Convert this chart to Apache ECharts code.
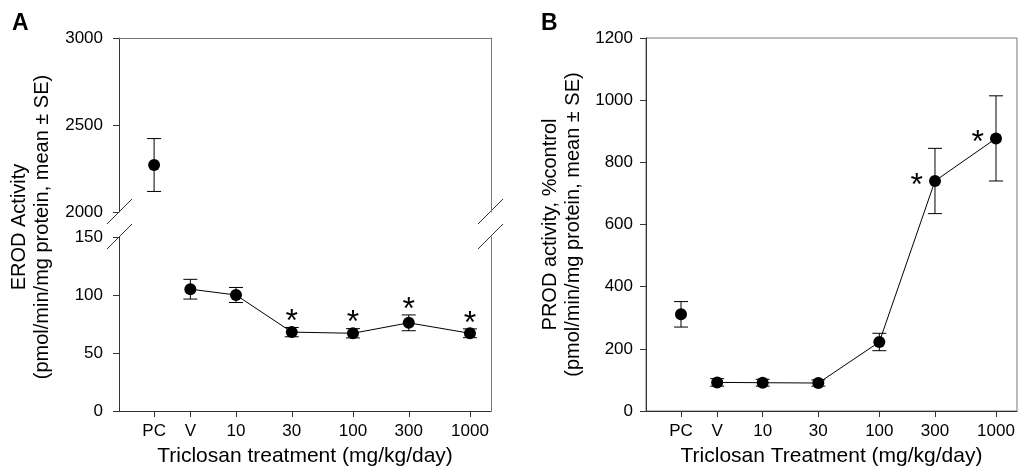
<!DOCTYPE html>
<html>
<head>
<meta charset="utf-8">
<script src="https://cdn.jsdelivr.net/npm/echarts@6/dist/echarts.min.js"></script>
<style>
  html, body { margin: 0; padding: 0; background: #fff; }
  #main { width: 1018px; height: 472px; }
</style>
</head>
<body>
<div id="main"></div>
<script>
// dose groups; x position is on a log10 scale (PC and V placed to the left)
var doseLabels = ["PC", "V", "10", "30", "100", "300", "1000"];
var dosePos = [0.3, 0.61, 1, 1.477, 2, 2.477, 3];

// panel A: EROD
var erodMean = [2270, 105, 100, 68, 67, 76, 67];
var erodSE = [152, 8.5, 6.5, 4, 4, 6.8, 3.8];
var erodSig = [0, 0, 0, 1, 1, 1, 1];

// panel B: PROD
var prodMean = [311, 92, 91, 90, 222, 740, 877];
var prodSE = [41, 12, 11, 10, 28, 105, 137];
var prodSig = [0, 0, 0, 0, 0, 1, 1];

var FONT = "Liberation Sans, Arial, sans-serif";
var AXIS = "#333";
var BOX = "#777";

var chartDom = document.getElementById("main");
var myChart = echarts.init(chartDom);

function doseName(v) {
  var i = dosePos.findIndex(function (p) { return Math.abs(p - v) < 1e-6; });
  return i >= 0 ? doseLabels[i] : "";
}

function pts(mean, from, to) {
  var out = [];
  for (var i = from; i <= to; i++) out.push([dosePos[i], mean[i]]);
  return out;
}
function errs(mean, se, from, to) {
  var out = [];
  for (var i = from; i <= to; i++) out.push([dosePos[i], mean[i] - se[i], mean[i] + se[i]]);
  return out;
}
function stars(mean, se, sig, from, to) {
  var out = [];
  for (var i = from; i <= to; i++) if (sig[i]) out.push([dosePos[i], mean[i] + se[i]]);
  return out;
}

function renderErr(params, api) {
  var x = api.value(0);
  var lo = api.coord([x, api.value(1)]);
  var hi = api.coord([x, api.value(2)]);
  var w = 7;
  var st = { stroke: "#000", lineWidth: 1 };
  return {
    type: "group",
    children: [
      { type: "line", shape: { x1: lo[0], y1: lo[1], x2: hi[0], y2: hi[1] }, style: st },
      { type: "line", shape: { x1: lo[0] - w, y1: lo[1], x2: lo[0] + w, y2: lo[1] }, style: st },
      { type: "line", shape: { x1: hi[0] - w, y1: hi[1], x2: hi[0] + w, y2: hi[1] }, style: st },
    ],
  };
}

function xAxisBase(grid, showLabels) {
  return {
    type: "value",
    gridIndex: grid,
    min: 0,
    max: 3.18,
    splitLine: { show: false },
    axisLine: { show: true, lineStyle: { color: AXIS } },
    axisTick: { show: showLabels, inside: false, length: 6, lineStyle: { color: AXIS }, customValues: dosePos },
    axisLabel: {
      show: showLabels, customValues: dosePos, formatter: doseName,
      color: "#000", fontSize: 17, fontFamily: FONT, margin: 12,
    },
  };
}

function yAxisBase(grid, min, max, interval, margin) {
  return {
    type: "value",
    gridIndex: grid,
    min: min,
    max: max,
    interval: interval,
    splitLine: { show: false },
    axisLine: { show: true, lineStyle: { color: AXIS } },
    axisTick: { show: true, length: 6, lineStyle: { color: AXIS } },
    axisLabel: {
      color: "#000", fontSize: 17, fontFamily: FONT, margin: margin,
      formatter: function (v) { return String(v); },
    },
  };
}

function boxAxis(grid, min, max) {
  return {
    type: "value",
    gridIndex: grid,
    position: "right",
    min: min,
    max: max,
    splitLine: { show: false },
    axisLine: { show: true, onZero: false, lineStyle: { color: BOX } },
    axisTick: { show: false },
    axisLabel: { show: false },
  };
}

var xNameStyle = {
  nameLocation: "middle",
  nameGap: 35,
  nameTextStyle: { color: "#000", fontSize: 21, fontFamily: FONT },
};

var starLabel = { fontSize: 32, color: "#000", fontFamily: FONT, formatter: "*" };

var option = {
  animation: false,
  backgroundColor: "#fff",
  textStyle: { fontFamily: FONT },
  grid: [
    { left: 119, top: 38, width: 372, height: 174 }, // A upper (2000-3000)
    { left: 119, top: 237, width: 372, height: 174 }, // A lower (0-150)
    { left: 646, top: 38, width: 371, height: 373, show: true, borderColor: BOX, borderWidth: 1 }, // B
  ],
  xAxis: [
    Object.assign(xAxisBase(0, false), { position: "top", axisLine: { show: true, onZero: false, lineStyle: { color: BOX } } }),
    Object.assign(xAxisBase(1, true), xNameStyle, { name: "Triclosan treatment (mg/kg/day)" }),
    Object.assign(xAxisBase(2, true), xNameStyle, { name: "Triclosan Treatment (mg/kg/day)" }),
  ],
  yAxis: [
    yAxisBase(0, 2000, 3000, 500, 16),
    yAxisBase(1, 0, 150, 50, 16),
    Object.assign(yAxisBase(2, 0, 1200, 200, 13), {
      name: "PROD activity, %control\n(pmol/min/mg protein, mean ± SE)",
      nameLocation: "middle",
      nameGap: 61,
      nameTextStyle: { color: "#000", fontSize: 20, fontFamily: FONT, lineHeight: 23 },
    }),
    boxAxis(0, 2000, 3000),
    boxAxis(1, 0, 150),
  ],
  graphic: [
    { type: "text", left: 12, top: 12, style: { text: "A", font: "bold 23px " + FONT, fill: "#000" } },
    { type: "text", left: 541, top: 12, style: { text: "B", font: "bold 23px " + FONT, fill: "#000" } },
    {
      type: "text", x: 31, y: 227, rotation: Math.PI / 2,
      style: {
        text: "EROD Activity\n(pmol/min/mg protein, mean ± SE)",
        font: "20px " + FONT, fill: "#000", align: "center", verticalAlign: "middle", lineHeight: 23,
      },
    },
    // axis break marks
    { type: "line", shape: { x1: 107, y1: 224, x2: 132, y2: 199 }, style: { stroke: AXIS, lineWidth: 1 } },
    { type: "line", shape: { x1: 107, y1: 249, x2: 132, y2: 224 }, style: { stroke: AXIS, lineWidth: 1 } },
    { type: "line", shape: { x1: 478, y1: 224, x2: 503, y2: 199 }, style: { stroke: AXIS, lineWidth: 1 } },
    { type: "line", shape: { x1: 478, y1: 249, x2: 503, y2: 224 }, style: { stroke: AXIS, lineWidth: 1 } },
  ],
  series: [
    // ---- A ----
    {
      type: "custom", xAxisIndex: 0, yAxisIndex: 0, renderItem: renderErr,
      data: errs(erodMean, erodSE, 0, 0), encode: { x: 0, y: [1, 2] }, z: 3,
    },
    {
      type: "scatter", xAxisIndex: 0, yAxisIndex: 0, symbol: "circle", symbolSize: 12,
      itemStyle: { color: "#000", opacity: 1 }, data: pts(erodMean, 0, 0), z: 4,
    },
    {
      type: "custom", xAxisIndex: 1, yAxisIndex: 1, renderItem: renderErr,
      data: errs(erodMean, erodSE, 1, 6), encode: { x: 0, y: [1, 2] }, z: 3,
    },
    {
      type: "line", xAxisIndex: 1, yAxisIndex: 1, symbol: "circle", symbolSize: 12,
      lineStyle: { color: "#000", width: 1 }, itemStyle: { color: "#000" },
      data: pts(erodMean, 1, 6), z: 4,
    },
    {
      type: "scatter", xAxisIndex: 1, yAxisIndex: 1, symbolSize: 0,
      itemStyle: { opacity: 1 },
      label: Object.assign({ show: true, position: "top", distance: -11 }, starLabel),
      data: stars(erodMean, erodSE, erodSig, 1, 6), z: 5,
    },
    // ---- B ----
    {
      type: "custom", xAxisIndex: 2, yAxisIndex: 2, renderItem: renderErr,
      data: errs(prodMean, prodSE, 0, 6), encode: { x: 0, y: [1, 2] }, z: 3,
    },
    {
      type: "scatter", xAxisIndex: 2, yAxisIndex: 2, symbol: "circle", symbolSize: 12,
      itemStyle: { color: "#000", opacity: 1 }, data: pts(prodMean, 0, 0), z: 4,
    },
    {
      type: "line", xAxisIndex: 2, yAxisIndex: 2, symbol: "circle", symbolSize: 12,
      lineStyle: { color: "#000", width: 1 }, itemStyle: { color: "#000" },
      data: pts(prodMean, 1, 6).map(function (d, k) {
        var i = k + 1;
        return prodSig[i]
          ? { value: d, label: Object.assign({ show: true, position: "left", distance: 6, offset: [0, 5] }, starLabel) }
          : d;
      }),
      z: 4,
    },
  ],
};

option && myChart.setOption(option);
</script>
</body>
</html>
